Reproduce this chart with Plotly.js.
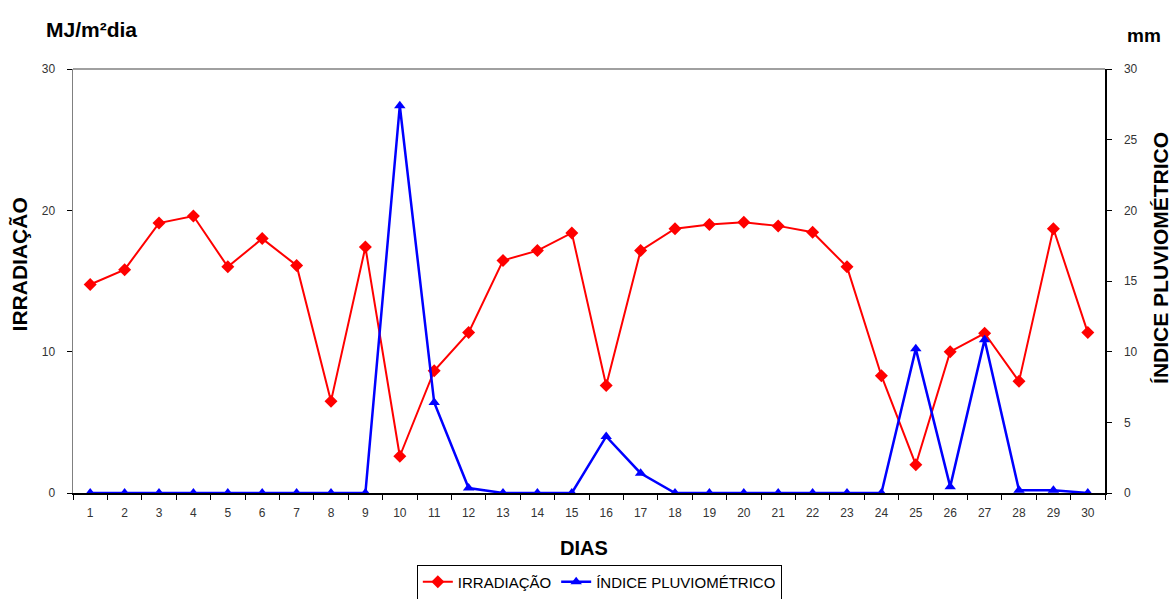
<!DOCTYPE html>
<html>
<head>
<meta charset="utf-8">
<script src="https://cdn.plot.ly/plotly-3.0.1.min.js"></script>
<style>html,body{margin:0;padding:0;background:#fff;}#chart{width:1173px;height:599px;}</style>
</head>
<body>
<div id="chart"></div>
<script>
const dias = ["1","2","3","4","5","6","7","8","9","10","11","12","13","14","15","16","17","18","19","20","21","22","23","24","25","26","27","28","29","30"];
const irradiacao = [14.75,15.8,19.1,19.6,16.0,18.0,16.1,6.5,17.4,2.6,8.65,11.35,16.45,17.15,18.4,7.6,17.15,18.7,19.0,19.15,18.9,18.45,16.0,8.3,2.0,10.0,11.3,7.9,18.7,11.35];
const pluviometrico = [0,0,0,0,0,0,0,0,0,27.4,6.4,0.35,0,0,0,4.0,1.4,0,0,0,0,0,0,0,10.2,0.45,10.85,0.2,0.2,0];
const leftTicks = [0,10,20,30];
const rightTicks = [0,5,10,15,20,25,30];

const FONT = "Liberation Sans, Arial, sans-serif";

const traces = [
  {
    x: dias, y: irradiacao, name: "IRRADIAÇÃO", type: "scatter", mode: "lines+markers",
    line: {color: "#ff0000", width: 2},
    marker: {symbol: "diamond", size: 10, color: "#ff0000"},
    yaxis: "y"
  },
  {
    x: dias, y: pluviometrico, name: "ÍNDICE PLUVIOMÉTRICO", type: "scatter", mode: "lines+markers",
    line: {color: "#0000ff", width: 2.5},
    marker: {symbol: "triangle-up", size: 10, color: "#0000ff"},
    yaxis: "y2"
  }
];

const layout = {
  width: 1173, height: 599,
  margin: {l: 73, r: 68, t: 69, b: 106, autoexpand: false},
  paper_bgcolor: "#ffffff", plot_bgcolor: "#ffffff",
  font: {family: FONT, color: "#333333", size: 12},
  showlegend: true,
  legend: {
    orientation: "h", x: 0.51, xanchor: "center", y: -0.21, yanchor: "middle",
    bordercolor: "#000000", borderwidth: 1,
    font: {family: FONT, size: 15, color: "#000000"},
    itemwidth: 30, tracegroupgap: 0
  },
  xaxis: {
    type: "category", range: [-0.5, 29.5],
    showline: true, linecolor: "#000000", linewidth: 1.5,
    ticks: "outside", tickson: "boundaries", ticklen: 5, tickcolor: "#000000",
    ticklabelstandoff: 8,
    showgrid: false, zeroline: false,
    tickfont: {family: FONT, size: 12, color: "#333333"}
  },
  yaxis: {
    range: [0, 30], tickvals: leftTicks,
    showline: true, linecolor: "#808080", linewidth: 1.5,
    ticks: "outside", ticklen: 5, tickcolor: "#000000",
    ticklabelstandoff: 9,
    showgrid: false, zeroline: false,
    tickfont: {family: FONT, size: 12, color: "#333333"}
  },
  yaxis2: {
    range: [0, 30], tickvals: rightTicks, overlaying: "y", side: "right",
    showline: true, linecolor: "#000000", linewidth: 1.5,
    ticks: "outside", ticklen: 5, tickcolor: "#000000",
    ticklabelstandoff: 10,
    showgrid: false, zeroline: false,
    tickfont: {family: FONT, size: 12, color: "#333333"}
  },
  shapes: [
    {type: "line", xref: "paper", yref: "paper", x0: 0, x1: 1, y0: 1, y1: 1, line: {color: "#808080", width: 1.5}}
  ],
  annotations: [
    {text: "<b>MJ/m²dia</b>", xref: "paper", yref: "paper", x: -0.028, y: 1.092, xanchor: "left", yanchor: "middle", showarrow: false, font: {family: FONT, size: 21, color: "#000000"}},
    {text: "<b>mm</b>", xref: "paper", yref: "paper", x: 1.0375, y: 1.080, xanchor: "center", yanchor: "middle", showarrow: false, font: {family: FONT, size: 19, color: "#000000"}},
    {text: "<b>IRRADIAÇÃO</b>", xref: "paper", yref: "paper", x: -0.052, y: 0.54, xanchor: "center", yanchor: "middle", textangle: -90, showarrow: false, font: {family: FONT, size: 21, color: "#000000"}},
    {text: "<b>ÍNDICE PLUVIOMÉTRICO</b>", xref: "paper", yref: "paper", x: 1.0535, y: 0.555, xanchor: "center", yanchor: "middle", textangle: -90, showarrow: false, font: {family: FONT, size: 21, color: "#000000"}},
    {text: "<b>DIAS</b>", xref: "paper", yref: "paper", x: 0.495, y: -0.13, xanchor: "center", yanchor: "middle", showarrow: false, font: {family: FONT, size: 20, color: "#000000"}}
  ]
};

Plotly.newPlot("chart", traces, layout, {displayModeBar: false, staticPlot: true});
</script>
</body>
</html>
